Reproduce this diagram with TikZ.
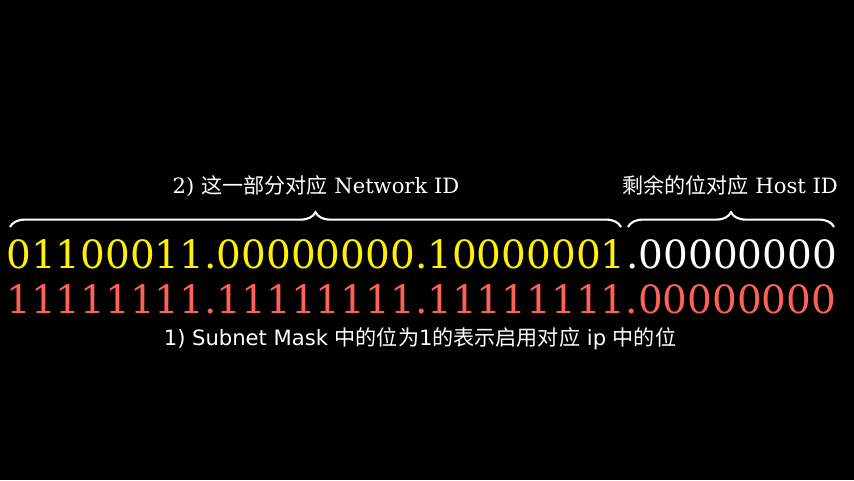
\documentclass[tikz,border=0pt]{standalone}
\usepackage{fontspec}
\setmainfont{DejaVu Serif}
\newfontfamily\cjk{Noto Sans CJK SC}
\newfontfamily\labelsans{DejaVu Sans}
\usetikzlibrary{decorations.pathreplacing}
\definecolor{maskred}{HTML}{FC6255}

\begin{document}
\begin{tikzpicture}[x=0.025cm, y=-0.025cm,
  bits/.style={font=\fontsize{27.7}{30}\selectfont, inner sep=0pt, anchor=base west},
  lbl/.style={font=\fontsize{15}{17}\selectfont, text=white, inner sep=0pt, anchor=base},
  brc/.style={draw=white, line width=1.5pt, decorate, decoration={brace, amplitude=10.5pt}}]

  % background
  \fill[black] (0,0) rectangle (854,480);

  % addresses
  \node[bits, text=yellow] (net) at (6,268) {01100011.00000000.10000001};
  \node[bits, text=white] (host) at (net.base east) {.00000000};
  \node[bits, text=maskred] (mask) at (6,313) {11111111.11111111.11111111.00000000};

  % labels
  \node[lbl] (netlbl) at (316,193) {2) {\cjk 这一部分对应} Network ID};
  \node[lbl] (hostlbl) at (730,193) {{\cjk 剩余的位对应} Host ID};
  \node[lbl, font=\labelsans\fontsize{15}{17}\selectfont] (masklbl) at (420,345)
    {1) Subnet Mask {\cjk 中的位为}1{\cjk 的表示启用对应} ip {\cjk 中的位}};

  % braces
  \coordinate (netL) at (10,227);
  \coordinate (netR) at (621,227);
  \coordinate (hostL) at (628,227);
  \coordinate (hostR) at (834,227);
  \draw[brc] (netL) -- (netR);
  \draw[brc] (hostL) -- (hostR);

\end{tikzpicture}
\end{document}
